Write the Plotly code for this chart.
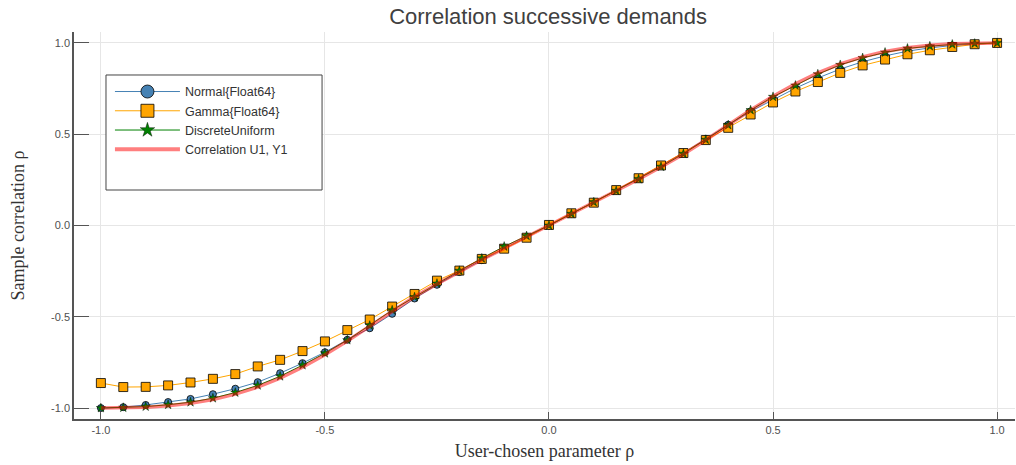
import plotly.graph_objects as go

# User-chosen correlation parameter (grid of 41 values)
rho = [-1.00, -0.95, -0.90, -0.85, -0.80, -0.75, -0.70, -0.65, -0.60, -0.55,
       -0.50, -0.45, -0.40, -0.35, -0.30, -0.25, -0.20, -0.15, -0.10, -0.05,
       0.00, 0.05, 0.10, 0.15, 0.20, 0.25, 0.30, 0.35, 0.40, 0.45,
       0.50, 0.55, 0.60, 0.65, 0.70, 0.75, 0.80, 0.85, 0.90, 0.95, 1.00]

# Sample correlation of successive demands per marginal distribution
normal_corr = [-1.000, -0.995, -0.983, -0.967, -0.950, -0.924, -0.894, -0.858, -0.809, -0.754,
               -0.694, -0.626, -0.563, -0.484, -0.400, -0.325, -0.255, -0.190, -0.125, -0.063,
               0.000, 0.063, 0.127, 0.192, 0.258, 0.327, 0.398, 0.474, 0.552, 0.625,
               0.690, 0.752, 0.808, 0.857, 0.897, 0.929, 0.955, 0.973, 0.986, 0.995, 1.000]

gamma_corr = [-0.863, -0.885, -0.884, -0.876, -0.860, -0.840, -0.814, -0.772, -0.736, -0.688,
              -0.635, -0.573, -0.515, -0.444, -0.375, -0.302, -0.247, -0.183, -0.127, -0.067,
              0.003, 0.067, 0.125, 0.194, 0.259, 0.329, 0.397, 0.468, 0.535, 0.608,
              0.674, 0.734, 0.786, 0.836, 0.877, 0.909, 0.938, 0.960, 0.978, 0.993, 1.000]

uniform_corr = [-1.000, -0.998, -0.992, -0.982, -0.968, -0.946, -0.915, -0.876, -0.826, -0.765,
                -0.700, -0.628, -0.548, -0.464, -0.392, -0.318, -0.248, -0.180, -0.115, -0.057,
                0.000, 0.064, 0.128, 0.190, 0.254, 0.322, 0.393, 0.470, 0.550, 0.632,
                0.705, 0.767, 0.829, 0.880, 0.918, 0.948, 0.970, 0.982, 0.992, 0.997, 1.000]

u1y1_corr = [-1.000, -0.999, -0.995, -0.987, -0.974, -0.953, -0.924, -0.885, -0.836, -0.776,
             -0.708, -0.633, -0.552, -0.468, -0.390, -0.320, -0.253, -0.188, -0.125, -0.062,
             0.000, 0.062, 0.125, 0.188, 0.253, 0.320, 0.390, 0.468, 0.552, 0.633,
             0.708, 0.776, 0.836, 0.885, 0.924, 0.953, 0.974, 0.987, 0.995, 0.999, 1.000]

tick_vals = [-1.0, -0.5, 0.0, 0.5, 1.0]
tick_text = ["-1.0", "-0.5", "0.0", "0.5", "1.0"]

STEEL = "#4682B4"
ORANGE = "#FFA500"
GREEN = "#008000"
RED = "rgba(255,0,0,0.5)"
EDGE = "rgba(0,0,0,0.8)"

fig = go.Figure()

fig.add_trace(go.Scatter(
    x=rho, y=normal_corr, mode="lines+markers", showlegend=False,
    line=dict(color=STEEL, width=1),
    marker=dict(symbol="circle", size=7, color=STEEL, line=dict(color=EDGE, width=1))))
fig.add_trace(go.Scatter(
    x=rho, y=gamma_corr, mode="lines+markers", showlegend=False,
    line=dict(color=ORANGE, width=1),
    marker=dict(symbol="square", size=9, color=ORANGE, line=dict(color=EDGE, width=1))))
fig.add_trace(go.Scatter(
    x=rho, y=uniform_corr, mode="lines+markers", showlegend=False,
    line=dict(color=GREEN, width=1),
    marker=dict(symbol="star", size=7, color=GREEN, line=dict(color=EDGE, width=0.5))))
fig.add_trace(go.Scatter(
    x=rho, y=u1y1_corr, mode="lines", showlegend=False,
    line=dict(color=RED, width=3.5)))

# Legend entries (larger symbols than the plotted markers)
fig.add_trace(go.Scatter(
    x=[None], y=[None], mode="lines+markers", name="Normal{Float64}",
    line=dict(color=STEEL, width=1),
    marker=dict(symbol="circle", size=13, color=STEEL, line=dict(color=EDGE, width=1))))
fig.add_trace(go.Scatter(
    x=[None], y=[None], mode="lines+markers", name="Gamma{Float64}",
    line=dict(color=ORANGE, width=1),
    marker=dict(symbol="square", size=13, color=ORANGE, line=dict(color=EDGE, width=1))))
fig.add_trace(go.Scatter(
    x=[None], y=[None], mode="lines+markers", name="DiscreteUniform",
    line=dict(color=GREEN, width=1),
    marker=dict(symbol="star", size=11, color=GREEN, line=dict(color=EDGE, width=0.5))))
fig.add_trace(go.Scatter(
    x=[None], y=[None], mode="lines", name="Correlation U1, Y1",
    line=dict(color=RED, width=4)))

axis_common = dict(
    tickvals=tick_vals, ticktext=tick_text,
    showgrid=True, gridcolor="#e6e6e6", gridwidth=1,
    zeroline=False, showline=True, linecolor="#555555", linewidth=1.5,
    mirror=False, ticks="inside", tickcolor="#555555", tickwidth=1,
    tickfont=dict(family="Liberation Sans Narrow, Liberation Sans, Arial", size=11, color="#505050"),
)

fig.update_layout(
    width=1016, height=465,
    margin=dict(l=74, r=1, t=32, b=46),
    paper_bgcolor="white", plot_bgcolor="white",
    title=dict(text="Correlation successive demands", x=0.5395, xanchor="center",
               y=0.965, yanchor="middle",
               font=dict(family="Liberation Sans, Arial", size=22, color="#404040")),
    xaxis=dict(range=[-1.06, 1.04], ticklen=7,
               title=dict(text="User-chosen parameter ρ", standoff=9,
                          font=dict(family="Liberation Serif, DejaVu Serif", size=18, color="#333333")),
               **axis_common),
    yaxis=dict(range=[-1.06, 1.06], ticklen=15,
               title=dict(text="Sample correlation ρ", standoff=22,
                          font=dict(family="Liberation Serif, DejaVu Serif", size=18, color="#333333")),
               **axis_common),
    legend=dict(x=0.0382, y=0.884, xanchor="left", yanchor="top",
                bgcolor="rgba(0,0,0,0)", borderwidth=0,
                itemwidth=65, tracegroupgap=0,
                font=dict(family="Liberation Sans Narrow, Liberation Sans, Arial", size=12.5, color="#333333")),
    shapes=[dict(type="rect", xref="paper", yref="paper",
                 x0=0.034, x1=0.2636, y0=0.5917, y1=0.8889,
                 fillcolor="white", line=dict(color="#444444", width=1), layer="above")],
)

fig.write_html("out.html")
